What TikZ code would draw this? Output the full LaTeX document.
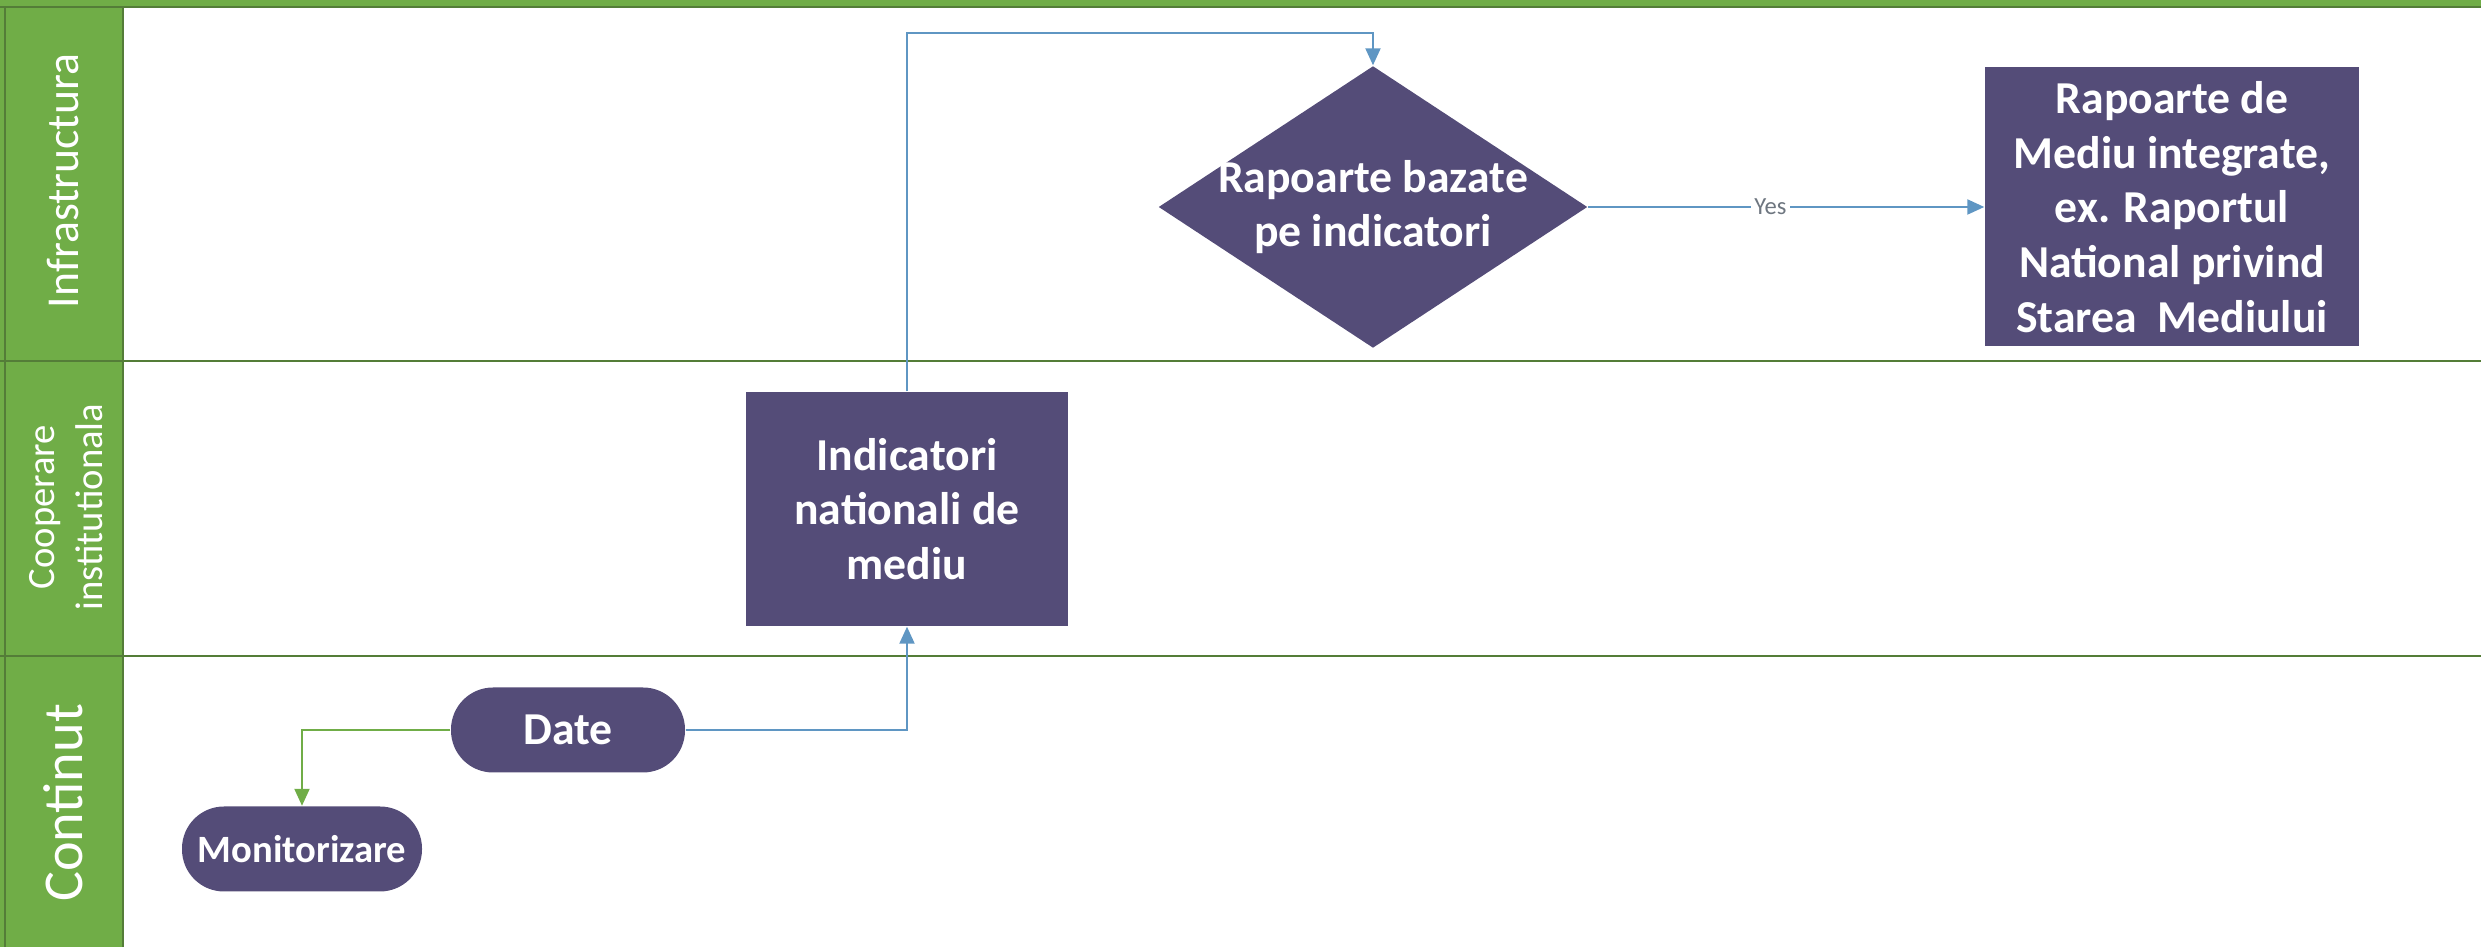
\documentclass[tikz,border=0pt]{standalone}
\usepackage{fontspec}
\setmainfont{Carlito}
\usetikzlibrary{shapes.geometric, arrows.meta}
\definecolor{boxpurple}{RGB}{84,76,120}
\definecolor{lanegreen}{RGB}{112,173,71}
\definecolor{linegreen}{RGB}{84,125,56}
\definecolor{linkblue}{RGB}{95,150,195}
\definecolor{yesgray}{RGB}{110,118,128}

\begin{document}
\begin{tikzpicture}[
        box/.style={fill=boxpurple, text=white, align=center, inner sep=0pt,
          font=\bfseries\fontsize{13}{15.6}\selectfont},
        decision/.style={box, diamond, aspect=1.52, inner sep=-0.7mm},
        pill/.style={box, rounded corners=4.2mm, minimum height=8.5mm},
        lane/.style={text=white, rotate=90, align=center, font=\fontsize{13}{15}\selectfont},
        flow/.style={linkblue, line width=0.6pt, -{Triangle[length=1.7mm, width=1.5mm]}},
        yes/.style={fill=white, text=yesgray, inner sep=1pt, font=\fontsize{7}{8}\selectfont}
    ]
      % Lanes
      \useasboundingbox (0,0) rectangle (24.81,9.47);
      \fill[lanegreen] (0,9.40) rectangle (24.81,9.47);
      \fill[lanegreen] (0,0) rectangle (1.23,9.40);
      \draw[linegreen, line width=0.8pt] (0,9.40) -- (24.81,9.40);
      \draw[linegreen, line width=0.6pt] (0,5.86) -- (24.81,5.86);
      \draw[linegreen, line width=0.6pt] (0,2.91) -- (24.81,2.91);
      \draw[linegreen, line width=0.6pt] (0.05,0) -- (0.05,9.40);
      \draw[linegreen, line width=0.6pt] (1.23,0) -- (1.23,9.40);

      % Lane titles
      \node[lane] (infra) at (0.63,7.66) {Infrastructura};
      \node[lane, font=\fontsize{11}{13.6}\selectfont] (coop) at (0.66,4.40) {Cooperare\\institutionala};
      \node[lane, font=\fontsize{16}{18}\selectfont] (cont) at (0.63,1.44) {Continut};

      % Steps
      \node[pill, minimum width=2.40cm, font=\bfseries\fontsize{11}{13}\selectfont] (mon) at (3.02,0.98) {Monitorizare};
      \node[pill, minimum width=2.34cm] (date) at (5.68,2.17) {Date};
      \node[box, minimum width=3.22cm, minimum height=2.34cm] (ind) at (9.07,4.38) {Indicatori\\nationali de\\mediu};
      \node[decision, minimum width=4.29cm, minimum height=2.82cm] (dia) at (13.73,7.40) {Rapoarte bazate\\pe indicatori};
      \node[box, minimum width=3.74cm, minimum height=2.79cm] (rap) at (21.72,7.40)
        {Rapoarte de\\Mediu integrate,\\ex. Raportul\\National privind\\Starea~ Mediului};

      % Connectors
      \draw[flow, lanegreen] (date.west) -| (mon.north);
      \draw[flow] (date.east) -| (ind.south);
      \draw[flow] (ind.north) |- ([yshift=3.2mm]dia.north) -- (dia.north);
      \draw[flow] (dia.east) -- node[yes, pos=0.46] (yes) {Yes} (rap.west);
    \end{tikzpicture}
\end{document}
